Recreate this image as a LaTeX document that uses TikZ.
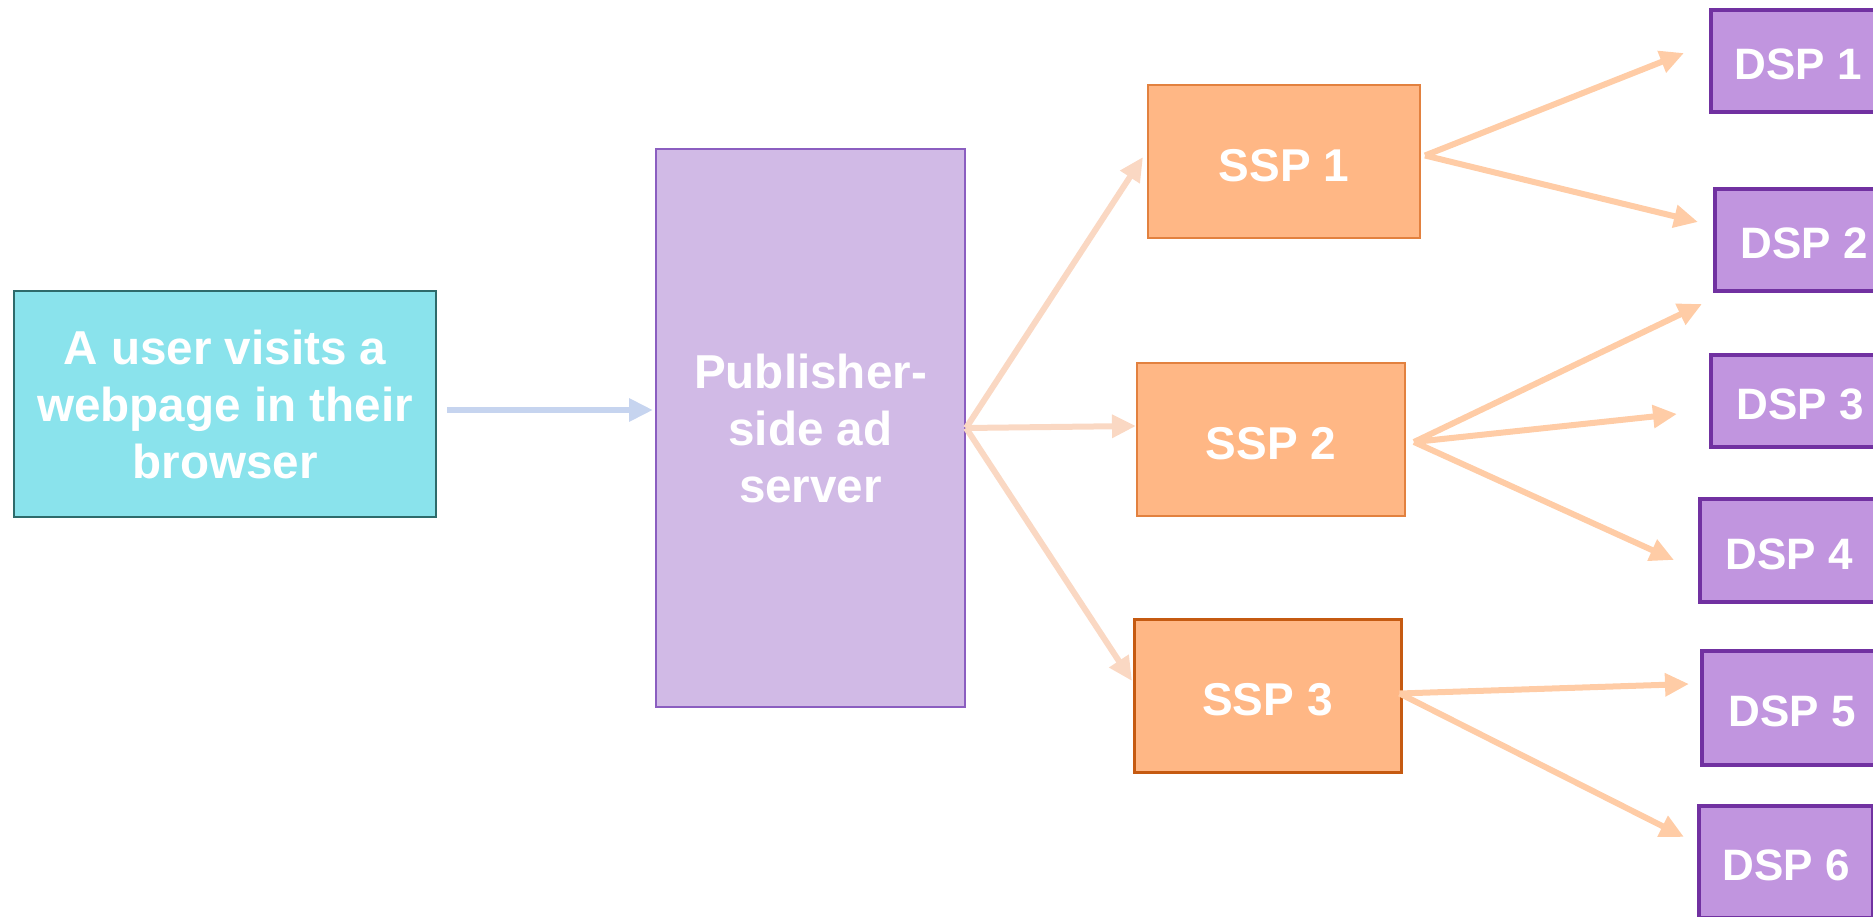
\documentclass[tikz,border=0pt]{standalone}
\usepackage{fontspec}
\setmainfont{Liberation Sans}
\usetikzlibrary{arrows.meta}
\definecolor{userfill}{HTML}{8AE3EC}
\definecolor{userdraw}{HTML}{2E6B6B}
\definecolor{pubfill}{HTML}{D1BAE6}
\definecolor{pubdraw}{HTML}{8B5EC0}
\definecolor{sspfill}{HTML}{FFB785}
\definecolor{sspdraw}{HTML}{E2813F}
\definecolor{sspdark}{HTML}{C55A11}
\definecolor{dspfill}{HTML}{C195DF}
\definecolor{dspdraw}{HTML}{7131A1}
\definecolor{bluearrow}{HTML}{C6D4EF}
\definecolor{pubarrow}{HTML}{FAD8C3}
\definecolor{ssparrow}{HTML}{FFCCA6}
\begin{document}
\begin{tikzpicture}[x=1pt,y=-1pt,
  box/.style={rectangle, align=center, text=white, inner sep=0pt,
    font=\bfseries\fontsize{47.6}{57}\selectfont},
  userbox/.style={box, fill=userfill, draw=userdraw, line width=2pt},
  pubbox/.style={box, fill=pubfill, draw=pubdraw, line width=2pt},
  sspbox/.style={box, fill=sspfill, draw=sspdraw, line width=2pt,
    font=\bfseries\fontsize{46}{54}\selectfont, text height=41pt, text depth=1pt},
  dspbox/.style={box, fill=dspfill, draw=dspdraw, line width=4pt,
    font=\bfseries\fontsize{44}{52}\selectfont, text height=38.5pt, text depth=1pt},
  conn/.style={line width=6pt, -{Triangle[length=24pt,width=22pt]}},
]
\useasboundingbox (0,0) rectangle (1873,917);

\node[userbox, minimum width=422, minimum height=226] (user) at (225,404)
  {A user visits a\\webpage in their\\browser};
\node[pubbox, minimum width=309, minimum height=558] (pub) at (810.5,428)
  {Publisher-\\side ad\\server};

\node[sspbox, minimum width=272, minimum height=153] (ssp1) at (1284,161.5) {SSP 1};
\node[sspbox, minimum width=268, minimum height=153] (ssp2) at (1271,439.5) {SSP 2};
\node[sspbox, draw=sspdark, line width=3pt, minimum width=267, minimum height=153] (ssp3) at (1267.5,695.5) {SSP 3};

\node[dspbox, minimum width=174, minimum height=102] (dsp1) at (1798,61) {DSP 1};
\node[dspbox, minimum width=178, minimum height=102] (dsp2) at (1804,240) {DSP 2};
\node[dspbox, minimum width=178, minimum height=92] (dsp3) at (1800,401) {DSP 3};
\node[dspbox, minimum width=178, minimum height=103] (dsp4) at (1789,550.5) {DSP 4};
\node[dspbox, minimum width=180, minimum height=114] (dsp5) at (1792,708) {DSP 5};
\node[dspbox, minimum width=174, minimum height=112] (dsp6) at (1786,862) {DSP 6};

\coordinate (u1) at (447,410);
\coordinate (u2) at (653,410);
\draw[conn, bluearrow] (u1) -- (u2);

\coordinate (p1) at (1143,157);
\coordinate (p2) at (1136,426);
\coordinate (p3) at (1132,681);
\draw[conn, pubarrow] (pub.east) -- (p1);
\draw[conn, pubarrow] (pub.east) -- (p2);
\draw[conn, pubarrow] (pub.east) -- (p3);

\coordinate (s11) at (1684,53);
\coordinate (s12) at (1698,222);
\coordinate (s21) at (1702,304);
\coordinate (s22) at (1677,414);
\coordinate (s23) at (1674,560);
\coordinate (s31) at (1689,684);
\coordinate (s32) at (1684,837);
\draw[conn, ssparrow] ([xshift=4pt,yshift=6pt]ssp1.east) -- (s11);
\draw[conn, ssparrow] ([xshift=4pt,yshift=6pt]ssp1.east) -- (s12);
\draw[conn, ssparrow] ([xshift=8pt,yshift=-2.5pt]ssp2.east) -- (s21);
\draw[conn, ssparrow] ([xshift=8pt,yshift=-2.5pt]ssp2.east) -- (s22);
\draw[conn, ssparrow] ([xshift=8pt,yshift=-2.5pt]ssp2.east) -- (s23);
\draw[conn, ssparrow] ([xshift=-3pt,yshift=2pt]ssp3.east) -- (s31);
\draw[conn, ssparrow] ([xshift=-3pt,yshift=2pt]ssp3.east) -- (s32);
\end{tikzpicture}
\end{document}
